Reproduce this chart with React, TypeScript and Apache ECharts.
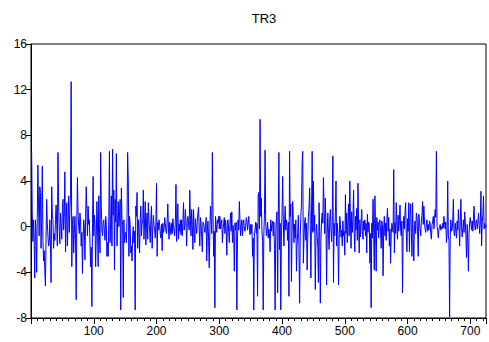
import React, { useEffect, useRef } from "react";
import * as echarts from "echarts";

const chartTitle = "TR3";
const yMin = -8;
const yMax = 16;
const yStep = 4;
const xMax = 725;
const xLabelStep = 100;
const xMinorStep = 10;

const tr3: number[] = [
  6.6, 1.2, -1.3, 0.6, -1.1, -4.5, 0.6, -0.4, -4.0, 0.8, 5.4, 2.1, -0.8, 3.5, 3.0, -1.9, 0.4, 5.3, -1.2, -3.0, -2.1, -3.8, -5.2, -1.0, 2.4,
  0.3, -0.8, -1.7, -1.4, 0.6, -1.6, -4.9, 3.5, 1.1, 0.6, -1.9, -0.6, -1.2, 0.6, 1.9, 0.2, -1.7, 6.5, 2.0, -0.4, -1.5, 1.2, 0.3, -1.1, 1.5,
  2.4, -0.3, 0.9, 4.8, -2.2, 0.5, 2.1, -1.7, 0.4, 2.7, -0.5, 1.4, 2.8, 12.7, -3.5, 0.2, 0.9, -2.3, -0.6, 0.9, -1.0, -6.4, 0.6, 4.3, 1.2,
  0.0, -0.6, 1.2, 0.4, -1.7, -0.5, -4.1, -1.2, 0.6, -0.2, -2.9, 0.8, 3.5, 1.6, -0.8, 1.8, 0.2, 0.6, -1.4, -3.5, -1.8, -7.0, 0.3, 4.4, -0.8,
  1.0, 0.2, -3.5, -0.9, 2.2, 0.1, -3.5, 2.7, -0.6, -2.3, 6.5, 1.7, -0.3, -0.8, 0.4, 0.6, -0.6, -1.2, 0.9, 0.2, -2.6, -1.4, -2.6, 0.9, 6.6,
  -1.4, 0.5, 2.7, -1.7, 6.8, 1.0, 3.2, -3.8, 2.4, 0.4, 6.4, -1.7, 0.4, 2.2, 0.0, 1.0, 2.4, -7.3, 3.4, 0.6, 0.2, -6.2, 0.6, -1.4, -0.5,
  -0.6, -1.4, 0.8, 6.5, 4.1, -2.6, 0.9, 0.2, -2.3, -1.7, -3.0, -0.7, 0.0, -1.4, -0.4, -7.3, 1.8, 0.9, 3.0, -1.9, 0.6, -0.3, -2.3, 0.5, 1.8,
  -0.8, 0.2, 0.6, 3.2, -1.1, 0.4, 2.2, -1.6, 0.3, 1.2, -1.1, 2.1, 0.5, -0.3, -1.4, 0.7, 1.8, -1.9, -0.2, 1.0, 0.1, -0.3, -1.0, 0.4, 3.8,
  -2.6, 0.4, -0.3, 0.6, 0.1, -0.6, -1.0, 0.2, -2.1, 0.3, -0.5, -0.3, 0.8, 0.3, -0.4, -0.6, 0.5, 2.0, -0.2, -1.1, 0.4, -0.1, -0.7, 0.3, -0.6,
  0.7, 0.1, -0.4, -0.8, 0.5, 3.7, -1.3, 0.6, 2.0, -1.1, 0.2, -0.4, 0.6, -0.7, 0.6, -0.8, 0.3, 2.1, -0.3, 0.0, 1.5, 0.4, -1.7, 0.5, 0.9,
  0.9, -0.3, 3.2, 0.6, -0.8, 1.5, 0.2, -2.0, 1.5, -0.4, -1.4, 0.7, 0.0, -0.6, 0.5, 1.2, 1.7, -0.3, -1.7, 0.8, 0.3, -0.9, -2.2, 0.4, 0.3,
  0.3, -0.5, 0.0, 0.8, -3.0, -0.3, 0.5, -1.2, -3.6, -0.2, 1.8, 0.4, -0.6, 6.5, 1.2, -2.6, -0.4, -7.1, 0.9, 0.2, -0.5, 0.6, 0.3, 0.9, -0.2,
  0.9, -0.2, 0.3, 0.6, -1.4, -0.3, 0.3, 0.8, -0.6, 0.6, -0.2, -2.5, 0.4, 0.6, -0.5, -1.4, 0.2, 1.2, -0.4, 1.3, -1.4, 0.1, -0.6, -3.9, 0.3,
  -0.3, 0.4, -7.3, -1.0, 0.6, -0.3, 2.2, 0.5, -0.8, 0.1, 0.6, -0.8, 0.3, 0.6, -0.2, -0.4, 0.0, 0.8, 0.5, -0.3, 0.3, 0.9, -0.2, -0.7, 0.2,
  -0.6, 0.2, -2.6, -1.0, -7.3, -0.5, -0.3, 0.4, -0.6, 0.3, -6.1, 2.7, 3.0, -0.2, 9.4, 0.9, 2.5, -0.4, -1.2, -7.3, -0.6, 1.0, 6.7, 0.4, -0.8,
  -0.3, 0.4, -1.0, -0.2, -0.6, -2.2, 0.6, -0.4, 0.2, 0.5, -0.8, 0.4, -2.0, -7.3, -0.4, 0.6, 1.3, -5.8, 0.8, 6.5, -2.0, 0.3, -7.3, -1.0, 1.2,
  4.4, 0.6, -1.7, 0.4, 1.8, -0.3, 0.6, 0.0, -1.2, 0.4, -6.1, 6.6, 0.9, 2.0, -4.8, -0.6, 2.2, 0.5, -1.4, 0.2, -1.0, 0.6, -3.9, -1.5, -0.5,
  1.0, -2.0, -6.7, -0.8, 0.9, 2.0, 5.6, 6.6, -3.2, -1.0, 0.4, 0.8, -1.2, 0.3, -3.8, -1.0, 0.9, 1.6, 3.4, 0.2, -4.5, 1.2, 6.6, -0.5, 4.0,
  -0.4, 1.0, -5.5, -1.2, 0.2, -0.8, -1.8, -4.9, 2.1, -0.4, -6.7, -1.0, 0.5, 1.2, 0.3, 4.3, 1.5, -0.6, 2.5, 0.4, -5.1, -0.6, 1.2, -0.7, -2.0,
  0.5, 1.5, -0.2, -1.3, 0.4, 6.2, -4.9, 0.3, -0.8, 1.2, 4.0, -1.7, 0.3, -0.6, -5.1, -1.2, 0.9, 0.2, -0.9, -0.3, -1.7, 0.5, -0.8, -0.4, -2.5,
  2.8, -0.6, 1.2, -1.4, 0.4, 2.0, -0.8, 4.0, 0.5, -1.9, 1.3, -0.5, 0.7, 3.2, -0.6, -2.2, 0.9, -0.3, 1.6, -1.2, 3.8, 0.2, -2.3, 0.6, -0.9,
  0.3, 1.5, -0.4, -1.1, 0.5, -0.3, 0.6, -0.8, 0.3, -2.3, 1.1, -0.5, 0.4, 0.2, -3.2, -0.6, -7.1, 0.3, -1.0, 2.4, -0.5, -3.8, 2.7, -0.2, -3.9,
  0.8, -0.3, 0.4, -1.0, 0.3, 0.6, -0.4, -1.9, 0.5, 0.2, -4.3, -0.2, 0.9, -0.8, 0.3, -1.2, 0.5, 1.6, -0.4, 0.8, -1.7, -0.2, -3.2, -0.6, 0.3,
  0.3, -0.5, 5.0, -2.3, 0.4, -0.6, 2.1, 0.2, -1.1, 1.0, -0.4, 0.6, 1.9, -0.3, -0.8, 0.5, -5.8, -0.4, 0.9, -0.2, 1.4, 2.1, -0.6, -2.2, 0.7,
  -0.4, 2.1, -2.2, 0.8, 2.0, -0.5, -2.6, 2.1, -1.0, -3.0, 0.2, 0.5, -0.6, 1.2, 0.9, -0.4, -2.6, 1.1, 0.3, -0.2, -0.8, 0.5, 1.0, 2.2, 0.2,
  1.8, 0.4, -0.2, -0.5, 0.3, 0.6, -0.4, 0.2, -0.3, 0.5, 0.3, -0.6, -1.1, 0.2, 0.4, 0.9, -0.2, 0.7, 1.5, 0.8, 6.6, 0.0, -0.3, -1.0, -0.2,
  -0.1, 0.2, -0.3, 0.0, -0.2, 0.3, -0.1, 0.9, 0.2, -0.2, 0.4, -1.4, -0.6, 4.0, -0.8, -1.2, -7.9, -0.9, 0.6, -0.4, -0.3, 0.5, 2.4, -0.6, -0.8,
  0.3, -0.4, -1.0, 0.5, -0.3, 1.5, 0.2, -1.7, 0.4, 2.4, 0.1, -0.9, -0.2, 0.6, -0.5, 1.3, 0.4, -0.8, -2.7, 0.2, -1.3, -3.9, -0.6, 0.4, 0.8,
  0.2, -0.3, 0.5, -0.4, 0.7, 1.8, 0.1, -0.3, 0.4, 0.6, -0.2, 0.3, 1.2, 0.2, -0.6, 0.5, 3.1, -1.7, 0.4, 1.0, 2.7, -0.2, 0.3, -0.1, 0.1,
];

const FONT = "'Liberation Sans', Arial, sans-serif";

export default function App() {
  const ref = useRef<HTMLDivElement>(null);

  useEffect(() => {
    if (!ref.current) return;
    const chart = echarts.init(ref.current, null, { renderer: "svg" });
    const data = tr3.map((v, i) => [i + 1, v]);

    chart.setOption({
      animation: false,
      backgroundColor: "#ffffff",
      title: {
        text: chartTitle,
        left: 259,
        textAlign: "center",
        top: 7,
        textStyle: {
          fontFamily: FONT,
          fontSize: 13,
          fontWeight: "normal",
          color: "#000",
        },
      },
      grid: {
        left: 31,
        right: 1,
        top: 44,
        bottom: 24,
        show: true,
        borderColor: "#000",
        borderWidth: 1,
        backgroundColor: "#fff",
      },
      xAxis: [
        {
          type: "value",
          min: 0,
          max: xMax,
          interval: xLabelStep,
          axisLine: { show: true, onZero: false, lineStyle: { color: "#000", width: 1 } },
          axisTick: { show: true, length: 6, lineStyle: { color: "#000", width: 1 } },
          axisLabel: {
            color: "#000",
            fontSize: 12,
            fontFamily: FONT,
            margin: 7,
            formatter: (v: number) => (v > 0 && v % xLabelStep === 0 ? String(v) : ""),
          },
          splitLine: { show: false },
        },
        {
          type: "value",
          min: 0,
          max: xMax,
          interval: xMinorStep,
          position: "bottom",
          axisLine: { show: false, onZero: false },
          axisTick: { show: true, length: 3, lineStyle: { color: "#000", width: 1 } },
          axisLabel: { show: false },
          splitLine: { show: false },
        },
      ],
      yAxis: {
        type: "value",
        min: yMin,
        max: yMax,
        interval: yStep,
        axisLine: { show: true, lineStyle: { color: "#000", width: 1 } },
        axisTick: { show: true, length: 5, lineStyle: { color: "#000", width: 1 } },
        axisLabel: { color: "#000", fontSize: 12, fontFamily: FONT, margin: 4 },
        splitLine: { show: false },
      },
      series: [
        {
          type: "line",
          xAxisIndex: 0,
          data,
          symbol: "none",
          showSymbol: false,
          lineStyle: { color: "#0000ff", width: 1 },
          itemStyle: { color: "#0000ff" },
        },
      ],
    });

    return () => chart.dispose();
  }, []);

  return (
    <div
      ref={ref}
      style={{ position: "fixed", left: 0, top: 0, width: 489, height: 342 }}
    />
  );
}
